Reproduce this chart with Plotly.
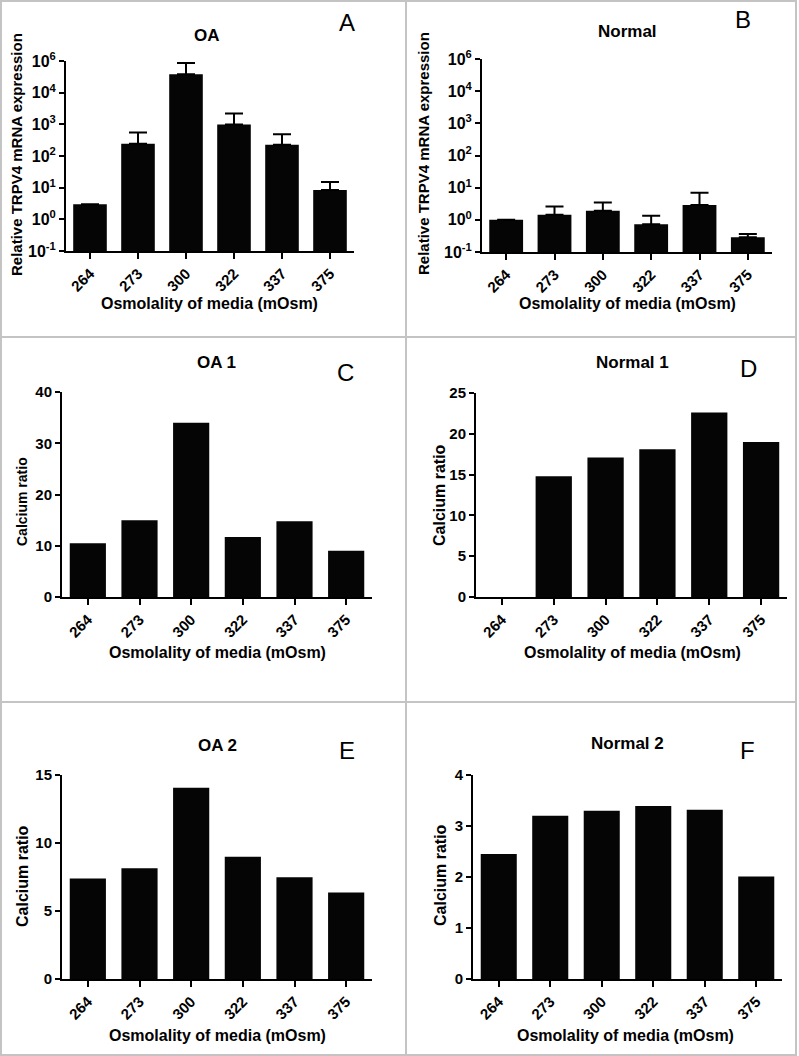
import plotly.graph_objects as go

W, H = 799, 1056
FONT = "Liberation Sans, Arial, sans-serif"

categories = ["264", "273", "300", "322", "337", "375"]

# Panel A: OA relative TRPV4 mRNA expression (log scale) + upper error
oa_expr = [3.0, 245, 38000, 980, 225, 8.5]
oa_expr_err = [0, 305, 49000, 1220, 265, 6.5]
# Panel B: Normal
normal_expr = [1.0, 1.43, 1.9, 0.73, 2.9, 0.29]
normal_expr_err = [0, 1.17, 1.55, 0.6, 4.0, 0.07]
# Panels C-F: Calcium ratio
oa1_ca = [10.5, 15.0, 34.0, 11.7, 14.8, 9.0]
normal1_ca = [0, 14.8, 17.1, 18.1, 22.6, 19.0]
oa2_ca = [7.39, 8.15, 14.07, 8.98, 7.49, 6.36]
normal2_ca = [2.45, 3.2, 3.3, 3.39, 3.32, 2.01]

log_tickvals = [0.1, 1, 10, 100, 1000, 10000, 100000]
log_ticktext = ["10<sup>-1</sup>", "10<sup>0</sup>", "10<sup>1</sup>", "10<sup>2</sup>",
                "10<sup>3</sup>", "10<sup>4</sup>", "10<sup>6</sup>"]

def px(x):
    return x / W

def py(y):
    return 1 - y / H

panels = [
    dict(vals=oa_expr, err=oa_expr_err, xd=(66, 354), yd=(251, 61), log=True, rng=[-1, 5],
         title="OA", tpos=(207, 35), letter="A", lpos=(347, 22),
         ytitle="Relative TRPV4 mRNA expression", ypos=(17, 155), ysize=15, xpos=(209, 304)),
    dict(vals=normal_expr, err=normal_expr_err, xd=(482, 772), yd=(252, 59), log=True, rng=[-1, 5],
         title="Normal", tpos=(627, 32), letter="B", lpos=(743, 20),
         ytitle="Relative TRPV4 mRNA expression", ypos=(423, 154), ysize=15, xpos=(627, 304)),
    dict(vals=oa1_ca, err=None, xd=(62, 372), yd=(597, 392), log=False, rng=[0, 40], dtick=10,
         title="OA 1", tpos=(216, 362), letter="C", lpos=(345, 372),
         ytitle="Calcium ratio", ypos=(22, 502), ysize=14, xpos=(217, 652)),
    dict(vals=normal1_ca, err=None, xd=(476, 787), yd=(597, 393), log=False, rng=[0, 25], dtick=5,
         title="Normal 1", tpos=(632, 362), letter="D", lpos=(748, 369),
         ytitle="Calcium ratio", ypos=(439, 495), ysize=16, xpos=(632, 652)),
    dict(vals=oa2_ca, err=None, xd=(62, 372), yd=(979, 775), log=False, rng=[0, 15], dtick=5,
         title="OA 2", tpos=(217, 745), letter="E", lpos=(347, 750),
         ytitle="Calcium ratio", ypos=(22, 876), ysize=16, xpos=(217, 1035)),
    dict(vals=normal2_ca, err=None, xd=(473, 782), yd=(979, 775), log=False, rng=[0, 4], dtick=1,
         title="Normal 2", tpos=(627, 743), letter="F", lpos=(747, 750),
         ytitle="Calcium ratio", ypos=(440, 875), ysize=16, xpos=(625, 1035)),
]

fig = go.Figure()
annotations = []
layout = {}

for i, p in enumerate(panels, start=1):
    xa = "x" if i == 1 else f"x{i}"
    ya = "y" if i == 1 else f"y{i}"
    trace = dict(x=categories, y=p["vals"], xaxis=xa, yaxis=ya,
                 marker=dict(color="#050505", line=dict(width=0)), width=0.7,
                 showlegend=False, hoverinfo="x+y")
    if p["err"] is not None:
        trace["error_y"] = dict(type="data", symmetric=False, array=p["err"],
                                arrayminus=[0] * len(p["err"]), color="black",
                                thickness=2, width=9)
    fig.add_trace(go.Bar(**trace))

    xkey = "xaxis" if i == 1 else f"xaxis{i}"
    ykey = "yaxis" if i == 1 else f"yaxis{i}"
    layout[xkey] = dict(domain=[px(p["xd"][0]), px(p["xd"][1])], anchor=ya,
                        type="category", range=[-0.5, 5.5], showline=True, linecolor="black",
                        linewidth=2, ticks="outside", ticklen=6, tickwidth=2, tickcolor="black",
                        tickangle=-45, showgrid=False, zeroline=False, automargin=False,
                        tickfont=dict(family=FONT, size=15, color="black", weight="bold"))
    yax = dict(domain=[py(p["yd"][0]), py(p["yd"][1])], anchor=xa,
               range=p["rng"], showline=True, linecolor="black", linewidth=2,
               ticks="outside", ticklen=5, tickwidth=2, tickcolor="black",
               showgrid=False, zeroline=False, automargin=False,
               tickfont=dict(family=FONT, size=15, color="black", weight="bold"))
    if p["log"]:
        yax.update(type="log", tickmode="array", tickvals=log_tickvals, ticktext=log_ticktext,
                   tickfont=dict(family=FONT, size=16, color="black", weight="bold"))
    else:
        yax.update(tickmode="linear", tick0=0, dtick=p["dtick"])
    layout[ykey] = yax

    annotations.append(dict(text=f"<b>{p['title']}</b>", x=px(p["tpos"][0]), y=py(p["tpos"][1]),
                            xref="paper", yref="paper", showarrow=False, xanchor="center",
                            yanchor="middle", font=dict(family=FONT, size=17, color="black")))
    annotations.append(dict(text=p["letter"], x=px(p["lpos"][0]), y=py(p["lpos"][1]),
                            xref="paper", yref="paper", showarrow=False, xanchor="center",
                            yanchor="middle", font=dict(family=FONT, size=24, color="black")))
    annotations.append(dict(text=f"<b>{p['ytitle']}</b>", x=px(p["ypos"][0]), y=py(p["ypos"][1]),
                            xref="paper", yref="paper", showarrow=False, xanchor="center",
                            yanchor="middle", textangle=-90,
                            font=dict(family=FONT, size=p["ysize"], color="black")))
    annotations.append(dict(text="<b>Osmolality of media (mOsm)</b>", x=px(p["xpos"][0]),
                            y=py(p["xpos"][1]), xref="paper", yref="paper", showarrow=False,
                            xanchor="center", yanchor="middle",
                            font=dict(family=FONT, size=16, color="black")))

border = "#c4c4c4"
shapes = [
    dict(type="rect", xref="paper", yref="paper", x0=px(1), x1=px(796), y0=py(1055), y1=py(1),
         line=dict(color=border, width=2)),
    dict(type="line", xref="paper", yref="paper", x0=px(406), x1=px(406), y0=py(1055), y1=py(1),
         line=dict(color=border, width=2)),
    dict(type="line", xref="paper", yref="paper", x0=px(1), x1=px(796), y0=py(337), y1=py(337),
         line=dict(color=border, width=2)),
    dict(type="line", xref="paper", yref="paper", x0=px(1), x1=px(796), y0=py(702), y1=py(702),
         line=dict(color=border, width=2)),
]

fig.update_layout(width=W, height=H,
                  margin=dict(l=0, r=0, t=0, b=0, pad=0, autoexpand=False),
                  paper_bgcolor="white", plot_bgcolor="white", bargap=0.3,
                  annotations=annotations, shapes=shapes, **layout)

fig.write_html("out.html", config={"displayModeBar": False},
               post_script="document.body.style.margin='0';document.body.style.padding='0';"
                           "document.body.style.overflow='hidden';")
